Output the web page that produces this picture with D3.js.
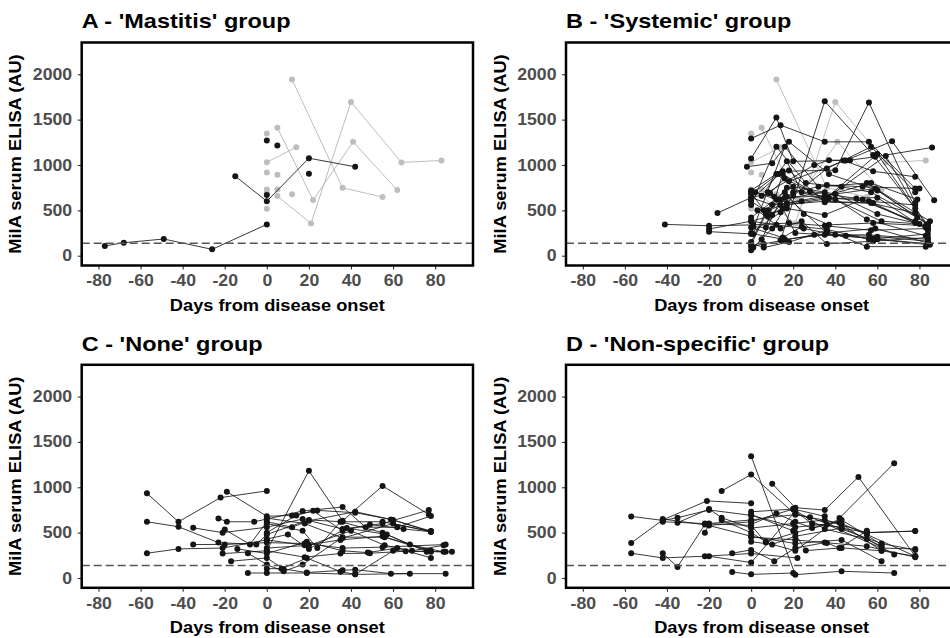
<!DOCTYPE html>
<html><head><meta charset="utf-8">
<script src="https://cdn.jsdelivr.net/npm/d3@7"></script>
<style>body{margin:0;background:#fff;} svg{display:block;}</style>
</head><body><svg id="chart" width="950" height="638"></svg>
<script>
// ---------- data ----------
const panelTitles = ["A - 'Mastitis' group", "B - 'Systemic' group", "C - 'None' group", "D - 'Non-specific' group"];
const xTicks = [-80, -60, -40, -20, 0, 20, 40, 60, 80];
const yTicks = [0, 500, 1000, 1500, 2000];
const xLabel = "Days from disease onset";
const yLabel = "MilA serum ELISA (AU)";
const threshold = 137;

// each series = one animal: [day, MilA value]
const mastitisBlack = [
  [[-77,107],[-68,143],[-49,184],[-26,70],[0,345]],
  [[-15,877],[0,600],[20,1075],[42,980]],
  [[0,1270]],
  [[0,670]],
  [[5,1215]],
  [[20,903]]
];
// animals shown in grey in both the 'Mastitis' and 'Systemic' panels
const sharedGrey = [
  [[0,1030],[14,1196]],
  [[5,1409],[22,613],[41,1255],[62,723]],
  [[12,1941],[36,749],[55,646]],
  [[5,657],[21,356],[40,1695],[64,1028],[83,1050]],
  [[0,1347]], [[0,918]], [[0,731]], [[0,690]], [[0,517]],
  [[5,892]], [[5,731]], [[12,676]]
];
const systemicBlack = [
  [[-41,345],[-20,330],[1,340],[18,360],[35,330],[57,280],[84,300]],
  [[-20,295],[0,380],[12,340],[25,300],[40,230],[60,210],[84,160]],
  [[-20,265],[1,240],[16,180],[35,230],[58,190],[84,130]],
  [[-16,470],[0,640],[10,560],[24,600],[36,640],[56,600],[78,560]],
  [[0,1072],[12,1523],[20,1040],[44,1050],[58,930],[78,870]],
  [[0,1292],[14,1439],[35,1255],[56,1255],[78,740]],
  [[14,170],[35,1703],[58,1110],[84,340]],
  [[0,620],[15,930],[40,943],[56,1688],[78,580]],
  [[8,700],[30,1000],[37,1053],[47,1053],[59,1090],[86,1193]],
  [[18,820],[45,1050],[67,1262],[87,610]],
  [[-2,980],[10,1020],[18,1255],[37,900],[60,720],[84,340]],
  [[0,700],[6,500],[16,640],[35,660],[57,800],[79,620]],
  [[0,720],[12,900],[20,760],[40,680],[60,460],[83,330]],
  [[0,150],[7,480],[14,560],[35,600],[58,580],[83,310]],
  [[0,60],[5,180],[14,620],[35,700],[55,400],[83,220]],
  [[0,100],[6,130],[15,170],[30,230],[56,230],[84,180]],
  [[1,90],[10,300],[17,560],[37,630],[60,640],[84,280]],
  [[0,600],[10,450],[17,650],[36,250],[59,300],[84,140]],
  [[0,680],[13,900],[18,940],[35,590],[57,580],[78,470]],
  [[2,700],[12,620],[17,750],[40,620],[62,380],[80,350]],
  [[0,380],[8,430],[15,520],[21,250],[45,220],[60,180],[85,120]],
  [[0,250],[14,480],[20,660],[36,960],[57,1200],[78,700]],
  [[0,640],[9,690],[16,850],[28,710],[50,630],[78,380]],
  [[1,320],[7,310],[15,900],[35,620],[60,1120],[78,520]],
  [[0,560],[12,1200],[26,800],[43,760],[57,700],[79,420]],
  [[0,140],[6,90],[18,150],[36,280],[55,100],[83,100]],
  [[5,660],[17,1040],[24,700],[35,620],[64,1100],[84,300]],
  [[0,310],[15,200],[24,320],[36,290],[56,180],[84,240]],
  [[0,700],[11,650],[17,580],[40,680],[59,740],[85,380]],
  [[3,500],[14,300],[24,380],[36,130],[58,160],[84,200]],
  [[0,120],[7,460],[17,520],[35,450],[53,620],[78,360]],
  [[8,500],[20,700],[36,780],[53,760],[80,740]],
  [[0,240],[16,1200],[32,760],[55,800],[84,350]],
  [[0,420],[16,700],[25,460],[37,340],[58,360],[84,330]]
];
const noneBlack = [
  [[-57,934],[-42,620],[-22,886],[0,960]],
  [[-57,620],[-42,565],[-23,390],[-5,370],[0,480],[20,640],[36,620],[55,620],[78,515]],
  [[-57,273],[-42,321],[-21,330],[0,420],[18,360],[35,420],[55,460],[78,300]],
  [[-19,952],[0,680],[12,690],[24,745],[42,720],[60,640],[78,510]],
  [[-35,553],[-21,500],[0,560],[17,650],[36,540],[55,600],[77,749]],
  [[0,300],[20,1181],[36,630],[55,1015],[77,700]],
  [[-35,369],[-20,370],[0,390],[18,380],[36,330],[55,340],[85,369]],
  [[-23,657],[-19,620],[-6,620],[0,650],[17,738],[36,782],[47,560],[62,560],[78,683]],
  [[-20,535],[-8,370],[0,620],[12,560],[20,630],[42,731],[59,646],[78,517]],
  [[-21,269],[0,300],[18,230],[35,270],[49,273],[66,295],[85,288]],
  [[-17,185],[0,221],[8,100],[19,60],[36,85],[42,92],[59,48],[85,48]],
  [[-14,321],[0,270],[19,400],[36,300],[48,280],[62,330],[78,221]],
  [[-9,55],[0,55],[19,55],[42,40],[68,48]],
  [[-9,273],[0,148],[8,74],[17,148],[36,450],[56,450],[78,290]],
  [[0,103],[7,103],[19,220],[35,70],[42,40],[60,300],[88,288]],
  [[0,500],[14,690],[22,740],[36,520],[49,590],[65,540],[78,510]],
  [[0,600],[17,520],[24,330],[35,620],[55,500],[68,369],[84,288]],
  [[0,430],[10,480],[20,320],[38,550],[57,480],[76,290]],
  [[0,660],[18,600],[36,440],[60,600],[78,510]],
  [[0,330],[20,360],[40,520],[56,360],[69,300],[84,360]]
];
const nonspecificBlack = [
  [[-57,679],[-42,635],[-35,664],[-20,750],[0,690],[21,560],[42,610],[62,300]],
  [[-57,387],[-42,640],[-21,850],[0,823]],
  [[-57,273],[-42,221],[-22,240],[0,270],[22,221]],
  [[-42,273],[-35,122],[-22,590],[0,460],[21,380],[43,420],[62,185]],
  [[-14,959],[0,1140],[21,700],[43,600],[55,480],[78,240]],
  [[0,1343],[21,37],[43,74],[68,55]],
  [[10,1040],[21,775],[35,749],[51,1114],[78,240]],
  [[-9,66],[0,40],[20,55]],
  [[-22,498],[-20,600],[0,640],[21,700],[28,670],[43,540],[62,380],[78,310]],
  [[-35,610],[-20,760],[-14,664],[0,550],[20,600],[35,640],[55,500],[78,517]],
  [[-42,620],[-22,600],[0,580],[7,390],[21,300],[42,660],[68,1266]],
  [[-9,273],[0,310],[11,185],[21,330],[35,390],[55,350],[78,230]],
  [[0,700],[20,520],[26,302],[43,332],[62,300],[78,240]],
  [[0,400],[10,370],[21,460],[43,550],[55,500],[78,517]],
  [[-20,240],[0,170],[21,735],[29,600],[43,560],[62,350]],
  [[-14,640],[0,500],[7,400],[21,500],[36,590],[62,330],[78,320]],
  [[0,730],[20,760],[35,540],[55,430],[68,260]],
  [[0,590],[12,710],[21,620],[29,550],[43,640],[62,370]],
  [[0,450],[21,420],[36,387],[42,330],[55,520]],
  [[-42,650],[-20,580],[0,620],[20,760],[35,680]]
];

// ---------- layout ----------
const svg = d3.select('#chart');
svg.append('rect').attr('width', 950).attr('height', 638).attr('fill', '#fff');
const W = 391.3, H = 223;
const SX = 1.12;
const FONT = '"Liberation Sans", Arial, sans-serif';
const layout = [
  {ox: 81.7, oy: 42.5}, {ox: 566, oy: 42.5},
  {ox: 81.7, oy: 364.8}, {ox: 566, oy: 364.8}
];
const blackSets = [mastitisBlack, systemicBlack, noneBlack, nonspecificBlack];
const greySets = [sharedGrey, sharedGrey, [], []];

const x = d3.scaleLinear().domain([-88, 98]).range([0, W]);
const y = d3.scaleLinear().domain([-108, 2350]).range([H, 0]);
const line = d3.line().x(d => x(d[0])).y(d => y(d[1]));

function drawSeries(g, sets, color, lw) {
  g.append('g').selectAll('path').data(sets.filter(s => s.length > 1)).join('path')
    .attr('d', line).attr('fill', 'none').attr('stroke', color).attr('stroke-width', lw);
  g.append('g').selectAll('circle').data(sets.flat()).join('circle')
    .attr('cx', d => x(d[0])).attr('cy', d => y(d[1])).attr('r', 3).attr('fill', color);
}

layout.forEach((L, i) => {
  const g = svg.append('g').attr('transform', `translate(${L.ox},${L.oy})`);
  const clipId = 'clip' + i;
  g.append('clipPath').attr('id', clipId).append('rect').attr('width', W).attr('height', H);
  const plot = g.append('g').attr('clip-path', `url(#${clipId})`);
  drawSeries(plot, greySets[i], '#BEBEBE', 1);
  drawSeries(plot, blackSets[i], '#151515', 0.85);
  plot.append('line').attr('x1', 0).attr('x2', W)
    .attr('y1', y(threshold)).attr('y2', y(threshold))
    .attr('stroke', '#555').attr('stroke-width', 1.4).attr('stroke-dasharray', '8,4');

  // axes
  const fmt = d => String(d);
  const ax = g.append('g').attr('transform', `translate(0,${H})`)
    .call(d3.axisBottom(x).tickValues(xTicks).tickSize(4).tickPadding(5.5).tickFormat(fmt));
  const ay = g.append('g')
    .call(d3.axisLeft(y).tickValues(yTicks).tickSize(4).tickPadding(5.5).tickFormat(fmt));
  [ax, ay].forEach(a => {
    a.select('.domain').remove();
    a.selectAll('.tick line').attr('stroke', '#333').attr('stroke-width', 1.1);
    a.selectAll('.tick text').attr('fill', '#4D4D4D').attr('font-family', FONT)
      .attr('font-weight', 'bold').attr('font-size', 15.8)
      .attr('transform', `scale(${SX},1)`);
  });
  ay.selectAll('.tick text').attr('x', -9.5 / SX);

  // frame
  g.append('rect').attr('width', W).attr('height', H).attr('fill', 'none')
    .attr('stroke', '#000').attr('stroke-width', 2.5);

  // titles
  g.append('text').attr('transform', `translate(0,${-14.2}) scale(${SX},1)`)
    .attr('font-family', FONT).attr('font-weight', 'bold').attr('font-size', 21)
    .attr('fill', '#000').text(panelTitles[i]);
  g.append('text').attr('transform', `translate(${W / 2},${H + 45.5}) scale(${SX},1)`)
    .attr('text-anchor', 'middle')
    .attr('font-family', FONT).attr('font-weight', 'bold').attr('font-size', 16.3)
    .attr('fill', '#000').text(xLabel);
  g.append('text').attr('transform', `translate(${-60.2},${H / 2}) rotate(-90) scale(${SX},1)`)
    .attr('text-anchor', 'middle')
    .attr('font-family', FONT).attr('font-weight', 'bold').attr('font-size', 16.3)
    .attr('fill', '#000').text(yLabel);
});
</script>
</body></html>
